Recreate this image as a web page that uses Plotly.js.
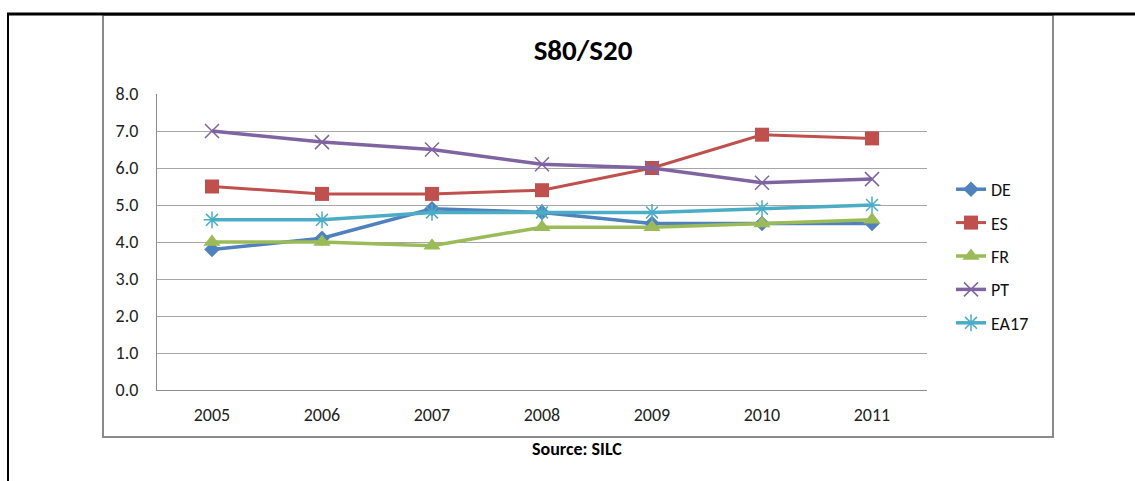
<!DOCTYPE html>
<html>
<head>
<meta charset="utf-8">
<script src="https://cdn.plot.ly/plotly-3.0.1.min.js"></script>
<style>
  html, body { margin: 0; padding: 0; background: #fff; }
  #chart { width: 1135px; height: 481px; }
</style>
</head>
<body>
<div id="chart"></div>
<script>
// data
const years = ["2005", "2006", "2007", "2008", "2009", "2010", "2011"];
const DE   = [3.8, 4.1, 4.9, 4.8, 4.5, 4.5, 4.5];
const ES   = [5.5, 5.3, 5.3, 5.4, 6.0, 6.9, 6.8];
const FR   = [4.0, 4.0, 3.9, 4.4, 4.4, 4.5, 4.6];
const PT   = [7.0, 6.7, 6.5, 6.1, 6.0, 5.6, 5.7];
const EA17 = [4.6, 4.6, 4.8, 4.8, 4.8, 4.9, 5.0];

const FONT = "Carlito, Calibri, Lato, 'Open Sans', sans-serif";

// plot area in pixels
const L = 157, R = 927, T = 94, B = 390;
const W = 1135, H = 481;
function xp(px) { return (px - L) / (R - L); }
function yp(py) { return (B - py) / (B - T); }

function series(name, y, color, symbol, msize, lw, open) {
  return {
    type: "scatter", mode: "lines+markers", name: name,
    x: years, y: y, legendgroup: name,
    line: { color: color, width: lw },
    marker: {
      symbol: symbol, size: msize, color: color,
      line: { color: color, width: open ? 1.5 : 0 }
    }
  };
}

const traces = [
  series("DE", DE, "#4F81BD", "diamond", 12, 3.5, false),
  series("ES", ES, "#C0504D", "square", 14, 3, false),
  series("FR", FR, "#9BBB59", "triangle-up", 15, 3.5, false),
  series("PT", PT, "#8064A2", "x-thin-open", 14, 3.5, true),
  series("EA17", EA17, "#4BACC6", "asterisk-open", 14, 3.5, true)
];

const layout = {
  width: W, height: H,
  margin: { l: L, r: W - R, t: T, b: H - B },
  paper_bgcolor: "#fff", plot_bgcolor: "#fff",
  font: { family: FONT, size: 18, color: "#222" },
  showlegend: true,
  title: {
    text: "<b>S80/S20</b>",
    font: { family: FONT, size: 29, color: "#000" },
    xref: "container", yref: "container",
    x: 583 / W, y: 1 - 50 / H, xanchor: "center", yanchor: "middle"
  },
  xaxis: {
    type: "category", range: [-0.5, 6.5],
    showgrid: false, zeroline: false,
    showline: true, linecolor: "#8c8c8c", linewidth: 1,
    ticks: "", ticklabelstandoff: 8,
    tickfont: { family: FONT, size: 18, color: "#222" },
    fixedrange: true
  },
  yaxis: {
    range: [0, 8], dtick: 1, tickformat: ".1f",
    showgrid: true, gridcolor: "#a6a6a6", gridwidth: 1,
    zeroline: false,
    showline: true, linecolor: "#8c8c8c", linewidth: 1,
    ticks: "", ticklabelstandoff: 14,
    tickfont: { family: FONT, size: 18, color: "#222" },
    fixedrange: true
  },
  legend: {
    x: xp(951), y: yp(171), xanchor: "left", yanchor: "top",
    font: { family: FONT, size: 18, color: "#111" },
    bgcolor: "rgba(0,0,0,0)",
    traceorder: "grouped", tracegroupgap: 7,
    itemwidth: 30
  },
  shapes: [
    // chart frame
    { type: "rect", xref: "paper", yref: "paper",
      x0: xp(103), x1: xp(1053), y0: yp(437), y1: yp(15),
      line: { color: "#8a8a8a", width: 2 }, fillcolor: "rgba(0,0,0,0)", layer: "below" },
    // page border top and left
    { type: "line", xref: "paper", yref: "paper",
      x0: xp(7), x1: xp(1135), y0: yp(14), y1: yp(14),
      line: { color: "#000", width: 3 } },
    { type: "line", xref: "paper", yref: "paper",
      x0: xp(8), x1: xp(8), y0: yp(13), y1: yp(481),
      line: { color: "#000", width: 2 } }
  ],
  annotations: [
    { text: "<b>Source: SILC</b>", xref: "paper", yref: "paper",
      x: xp(577), y: yp(449), xanchor: "center", yanchor: "middle",
      showarrow: false, font: { family: FONT, size: 18, color: "#000" } }
  ]
};

Plotly.newPlot("chart", traces, layout, { displayModeBar: false, staticPlot: true });
</script>
</body>
</html>
